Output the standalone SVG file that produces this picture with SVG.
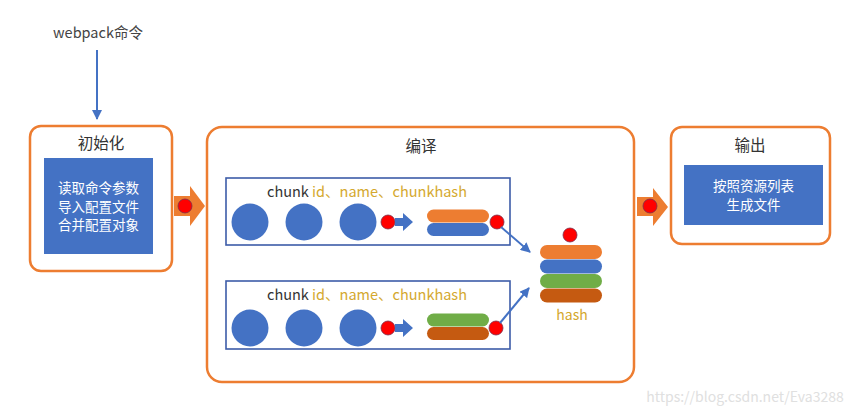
<svg xmlns="http://www.w3.org/2000/svg" width="859" height="415" viewBox="0 0 859 415">
<style>
text{font-family:"Microsoft YaHei","Noto Sans CJK SC",sans-serif}
.stage{fill:#fff;stroke:#ed7d31;stroke-width:2.5}
.panel{fill:#4472c4}
.wt{fill:#fff;font-size:13.5px;text-anchor:middle}
.title{fill:#333;font-size:15.5px;text-anchor:middle}
.chunkbox{fill:#fff;stroke:#3d5ca8;stroke-width:1.6}
.mod{fill:#4472c4}
.dot{fill:#ff0000;stroke:#7a2d4a;stroke-width:0.8}
.lbl{font-size:14.5px;fill:#d4a82e}
.k{fill:#333}
.big{fill:#ed7d31}
.conn{stroke:#4472c4;stroke-width:2;fill:none}
</style>
<defs>
<marker id="ah" viewBox="0 0 10 10" refX="9" refY="5" markerWidth="5" markerHeight="5" orient="auto">
<path d="M0,0 L10,5 L0,10 z" fill="#4472c4"/>
</marker>
</defs>

<g id="cmd">
<text x="98" y="38" text-anchor="middle" font-size="14.5" fill="#444">webpack命令</text>
</g>

<g id="init">
<rect class="stage" x="30" y="126" width="142" height="145" rx="11"/>
<text class="title" x="101" y="149">初始化</text>
<rect class="panel" x="44" y="158" width="109" height="96"/>
<text class="wt" x="98.5" y="193">读取命令参数</text>
<text class="wt" x="98.5" y="211.5">导入配置文件</text>
<text class="wt" x="98.5" y="230">合并配置对象</text>
</g>

<g id="arrow1">
<path class="big" d="M174,196 H190 V186 L205,206 L190,226 V216 H174 z"/>
<circle class="dot" cx="185" cy="206" r="7"/>
</g>

<g id="compile">
<rect class="stage" x="207" y="127" width="427" height="255" rx="15"/>
<text class="title" x="421" y="152">编译</text>
</g>

<g id="chunk1">
<rect class="chunkbox" x="226" y="178" width="284" height="67"/>
<text class="lbl" x="267" y="197"><tspan class="k">chunk</tspan> id、name、chunkhash</text>
<circle class="mod" cx="250" cy="222" r="18.5"/>
<circle class="mod" cx="304" cy="222" r="18.5"/>
<circle class="mod" cx="358" cy="222" r="18.5"/>
<circle class="dot" cx="388" cy="222" r="7"/>
<path fill="#4472c4" d="M395,218 H403 V213 L413,222 L403,231 V226 H395 z"/>
<rect x="427" y="209.5" width="62" height="13" rx="6.5" fill="#ed7d31"/>
<rect x="427" y="223" width="62" height="13" rx="6.5" fill="#4472c4"/>
<circle class="dot" cx="497" cy="222" r="7"/>
</g>

<g id="chunk2">
<rect class="chunkbox" x="226" y="281" width="284" height="68"/>
<text class="lbl" x="267" y="300"><tspan class="k">chunk</tspan> id、name、chunkhash</text>
<circle class="mod" cx="250" cy="328" r="18.5"/>
<circle class="mod" cx="304" cy="328" r="18.5"/>
<circle class="mod" cx="358" cy="328" r="18.5"/>
<circle class="dot" cx="388" cy="328" r="7"/>
<path fill="#4472c4" d="M395,324 H403 V319 L413,328 L403,337 V332 H395 z"/>
<rect x="427" y="313.5" width="62" height="13" rx="6.5" fill="#70ad47"/>
<rect x="427" y="327" width="62" height="13" rx="6.5" fill="#c55a11"/>
<circle class="dot" cx="496" cy="328" r="7"/>
</g>

<g id="hash">
<circle class="dot" cx="570" cy="235" r="7"/>
<rect x="540" y="245" width="62" height="14" rx="7" fill="#ed7d31"/>
<rect x="540" y="259.5" width="62" height="14" rx="7" fill="#4472c4"/>
<rect x="540" y="274" width="62" height="14" rx="7" fill="#70ad47"/>
<rect x="540" y="288.5" width="62" height="14" rx="7" fill="#c55a11"/>
<text x="572" y="320" text-anchor="middle" font-size="14" fill="#d4a82e">hash</text>
</g>

<g id="arrow2">
<path class="big" d="M637,197 H653 V188 L668,207 L653,226 V216 H637 z"/>
<circle class="dot" cx="650" cy="206" r="7"/>
</g>

<g id="output">
<rect class="stage" x="671" y="127" width="159" height="117" rx="11"/>
<text class="title" x="750" y="151">输出</text>
<rect class="panel" x="684" y="165" width="139" height="60"/>
<text class="wt" x="753.5" y="191">按照资源列表</text>
<text class="wt" x="753.5" y="209.5">生成文件</text>
</g>

<g id="connectors">
<line class="conn" x1="97" y1="50" x2="97" y2="119" marker-end="url(#ah)"/>
<line class="conn" x1="501" y1="227" x2="530" y2="252" marker-end="url(#ah)"/>
<line class="conn" x1="500" y1="323" x2="529" y2="288" marker-end="url(#ah)"/>
</g>

<text x="745" y="402" text-anchor="middle" font-family="Liberation Sans, Arial, sans-serif" font-size="14" fill="#e0e0e0">https://blog.csdn.net/Eva3288</text>
</svg>
